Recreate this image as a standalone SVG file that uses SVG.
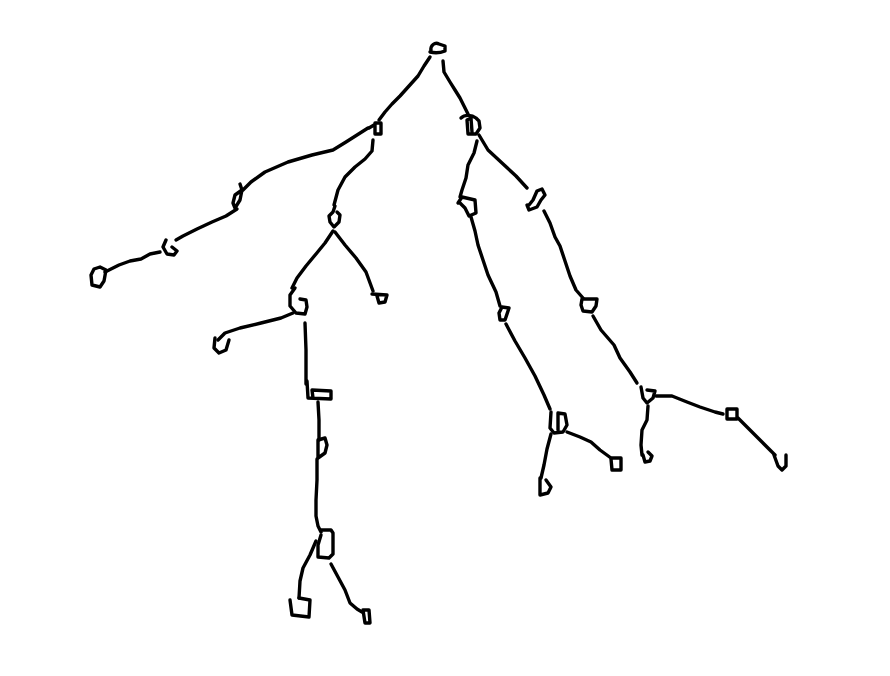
<svg xmlns="http://www.w3.org/2000/svg" width="890" height="676" viewBox="0 0 890 676">
<style>
path,polyline{fill:none;stroke:#000;stroke-width:3.4;stroke-linecap:round;stroke-linejoin:round}
</style>
<rect width="890" height="676" fill="#fff"/>
<g id="connectors">
<polyline points="430,57 424,66 418,76 409,86 400,96 392,104 385,112 379,120"/>
<polyline points="443,61 444,72 450,82 455,90 460,98 464,106 468,114"/>
<polyline points="368,128 357,135 346,142 333,150 312,155 288,162 265,172 251,182 243,190"/>
<polyline points="237,209 226,216 212,222 197,229 183,236 176,240"/>
<polyline points="160,252 150,254 141,259 130,261 119,265 105,272"/>
<polyline points="373,140 372,151 365,159 355,167 345,177 338,190 334,205"/>
<polyline points="333,231 325,243 316,254 306,266 297,278 292,288"/>
<polyline points="335,232 345,245 356,258 366,272 373,291"/>
<polyline points="293,313 281,318 261,323 240,328 225,333 218,340"/>
<polyline points="305,323 306,350 306,384"/>
<polyline points="318,402 319,420 319,440"/>
<polyline points="317,459 317,480 316,500 316,516 318,526 321,532"/>
<polyline points="316,541 310,555 303,568 300,581 299,598"/>
<polyline points="331,564 338,577 345,590 350,603 357,609 362,612"/>
<polyline points="477,141 474,153 468,165 466,178 462,190 460,197"/>
<polyline points="471,217 475,231 478,245 483,260 488,275 496,292 500,306"/>
<polyline points="506,324 515,341 525,358 535,376 544,395 550,409"/>
<polyline points="551,434 547,449 544,465 541,478"/>
<polyline points="567,432 580,437 591,442 600,450 611,458"/>
<polyline points="479,135 488,150 502,163 516,176 527,188"/>
<polyline points="544,211 550,223 555,237 560,246 565,261 570,276 576,290 583,298"/>
<polyline points="593,316 601,330 614,345 620,358 630,372 637,383"/>
<polyline points="648,406 647,420 642,430 641,445 642,455"/>
<polyline points="656,396 672,396 687,402 700,407 715,412 723,414"/>
<polyline points="738,418 750,430 762,442 775,455"/>
</g>
<g id="n0"><path d="M431,51 C430,45 435,42 439,44 L445,46 L445,51 C440,53 434,53 430,52"/></g>
<g id="n1"><path d="M375,123 L381,123 L381,134 L375,134 Z M369,128 L374,125"/></g>
<g id="n2"><path d="M461,118 C465,114 472,115 476,118 L479,121 L480,128 L476,134 L468,134 L467,120 L471,118 L472,132"/></g>
<g id="n3"><path d="M240,184 L242,190 L240,200 L235,208 L233,203 L235,195 L242,190"/></g>
<g id="n4"><path d="M166,240 L163,247 L167,254 L174,255 L177,251 L172,247"/></g>
<g id="n5"><path d="M100,267 L94,269 L91,275 L92,285 L100,287 L104,281 L106,270 Z"/></g>
<g id="n6"><path d="M335,206 L333,212 L329,216 L330,222 L334,227 L339,222 L340,215 L337,212"/></g>
<g id="n7"><path d="M295,288 L290,295 L290,306 L296,313 L305,314 L307,307 L306,300 L300,299"/></g>
<g id="n8"><path d="M372,294 L387,295 L385,302 L379,303 L377,296"/></g>
<g id="n9"><path d="M215,338 L214,348 L219,353 L226,350 L229,340"/></g>
<g id="n10"><path d="M307,381 L308,398 L331,399 L331,391 L312,390 L313,398"/></g>
<g id="n11"><path d="M318,440 L325,438 L327,445 L325,453 L318,458 Z"/></g>
<g id="n12"><path d="M321,530 L331,530 L333,533 L333,554 L329,558 L318,557 L318,545 L321,535"/></g>
<g id="n13"><path d="M290,600 L292,615 L309,617 L310,600 L299,598"/></g>
<g id="n14"><path d="M363,610 L369,610 L370,623 L365,623 Z"/></g>
<g id="n15"><path d="M458,203 L462,197 L475,200 L476,213 L469,216 L465,208 L459,202"/></g>
<g id="n16"><path d="M502,307 L509,308 L505,320 L500,320 L499,313 Z"/></g>
<g id="n17"><path d="M551,412 L550,428 L554,433 L563,432 L567,425 L565,414 L558,413 L558,430"/></g>
<g id="n18"><path d="M540,478 L540,495 L548,493 L551,487 L546,480"/></g>
<g id="n19"><path d="M611,459 L612,470 L621,470 L621,458 L612,458"/></g>
<g id="n20"><path d="M527,205 L529,210 L537,207 L541,200 L545,195 L542,189 L537,191 L533,200 L529,205"/></g>
<g id="n21"><path d="M582,299 L597,299 L596,306 L592,312 L583,311 L581,305 Z"/></g>
<g id="n22"><path d="M641,387 L643,398 L647,403 L653,398 L655,391 L647,390"/></g>
<g id="n23"><path d="M643,455 L645,462 L650,461 L652,456 L648,452"/></g>
<g id="n24"><path d="M727,409 L737,409 L737,419 L727,419 Z"/></g>
<g id="n25"><path d="M774,455 L778,466 L782,470 L786,466 L786,455"/></g>
</svg>
